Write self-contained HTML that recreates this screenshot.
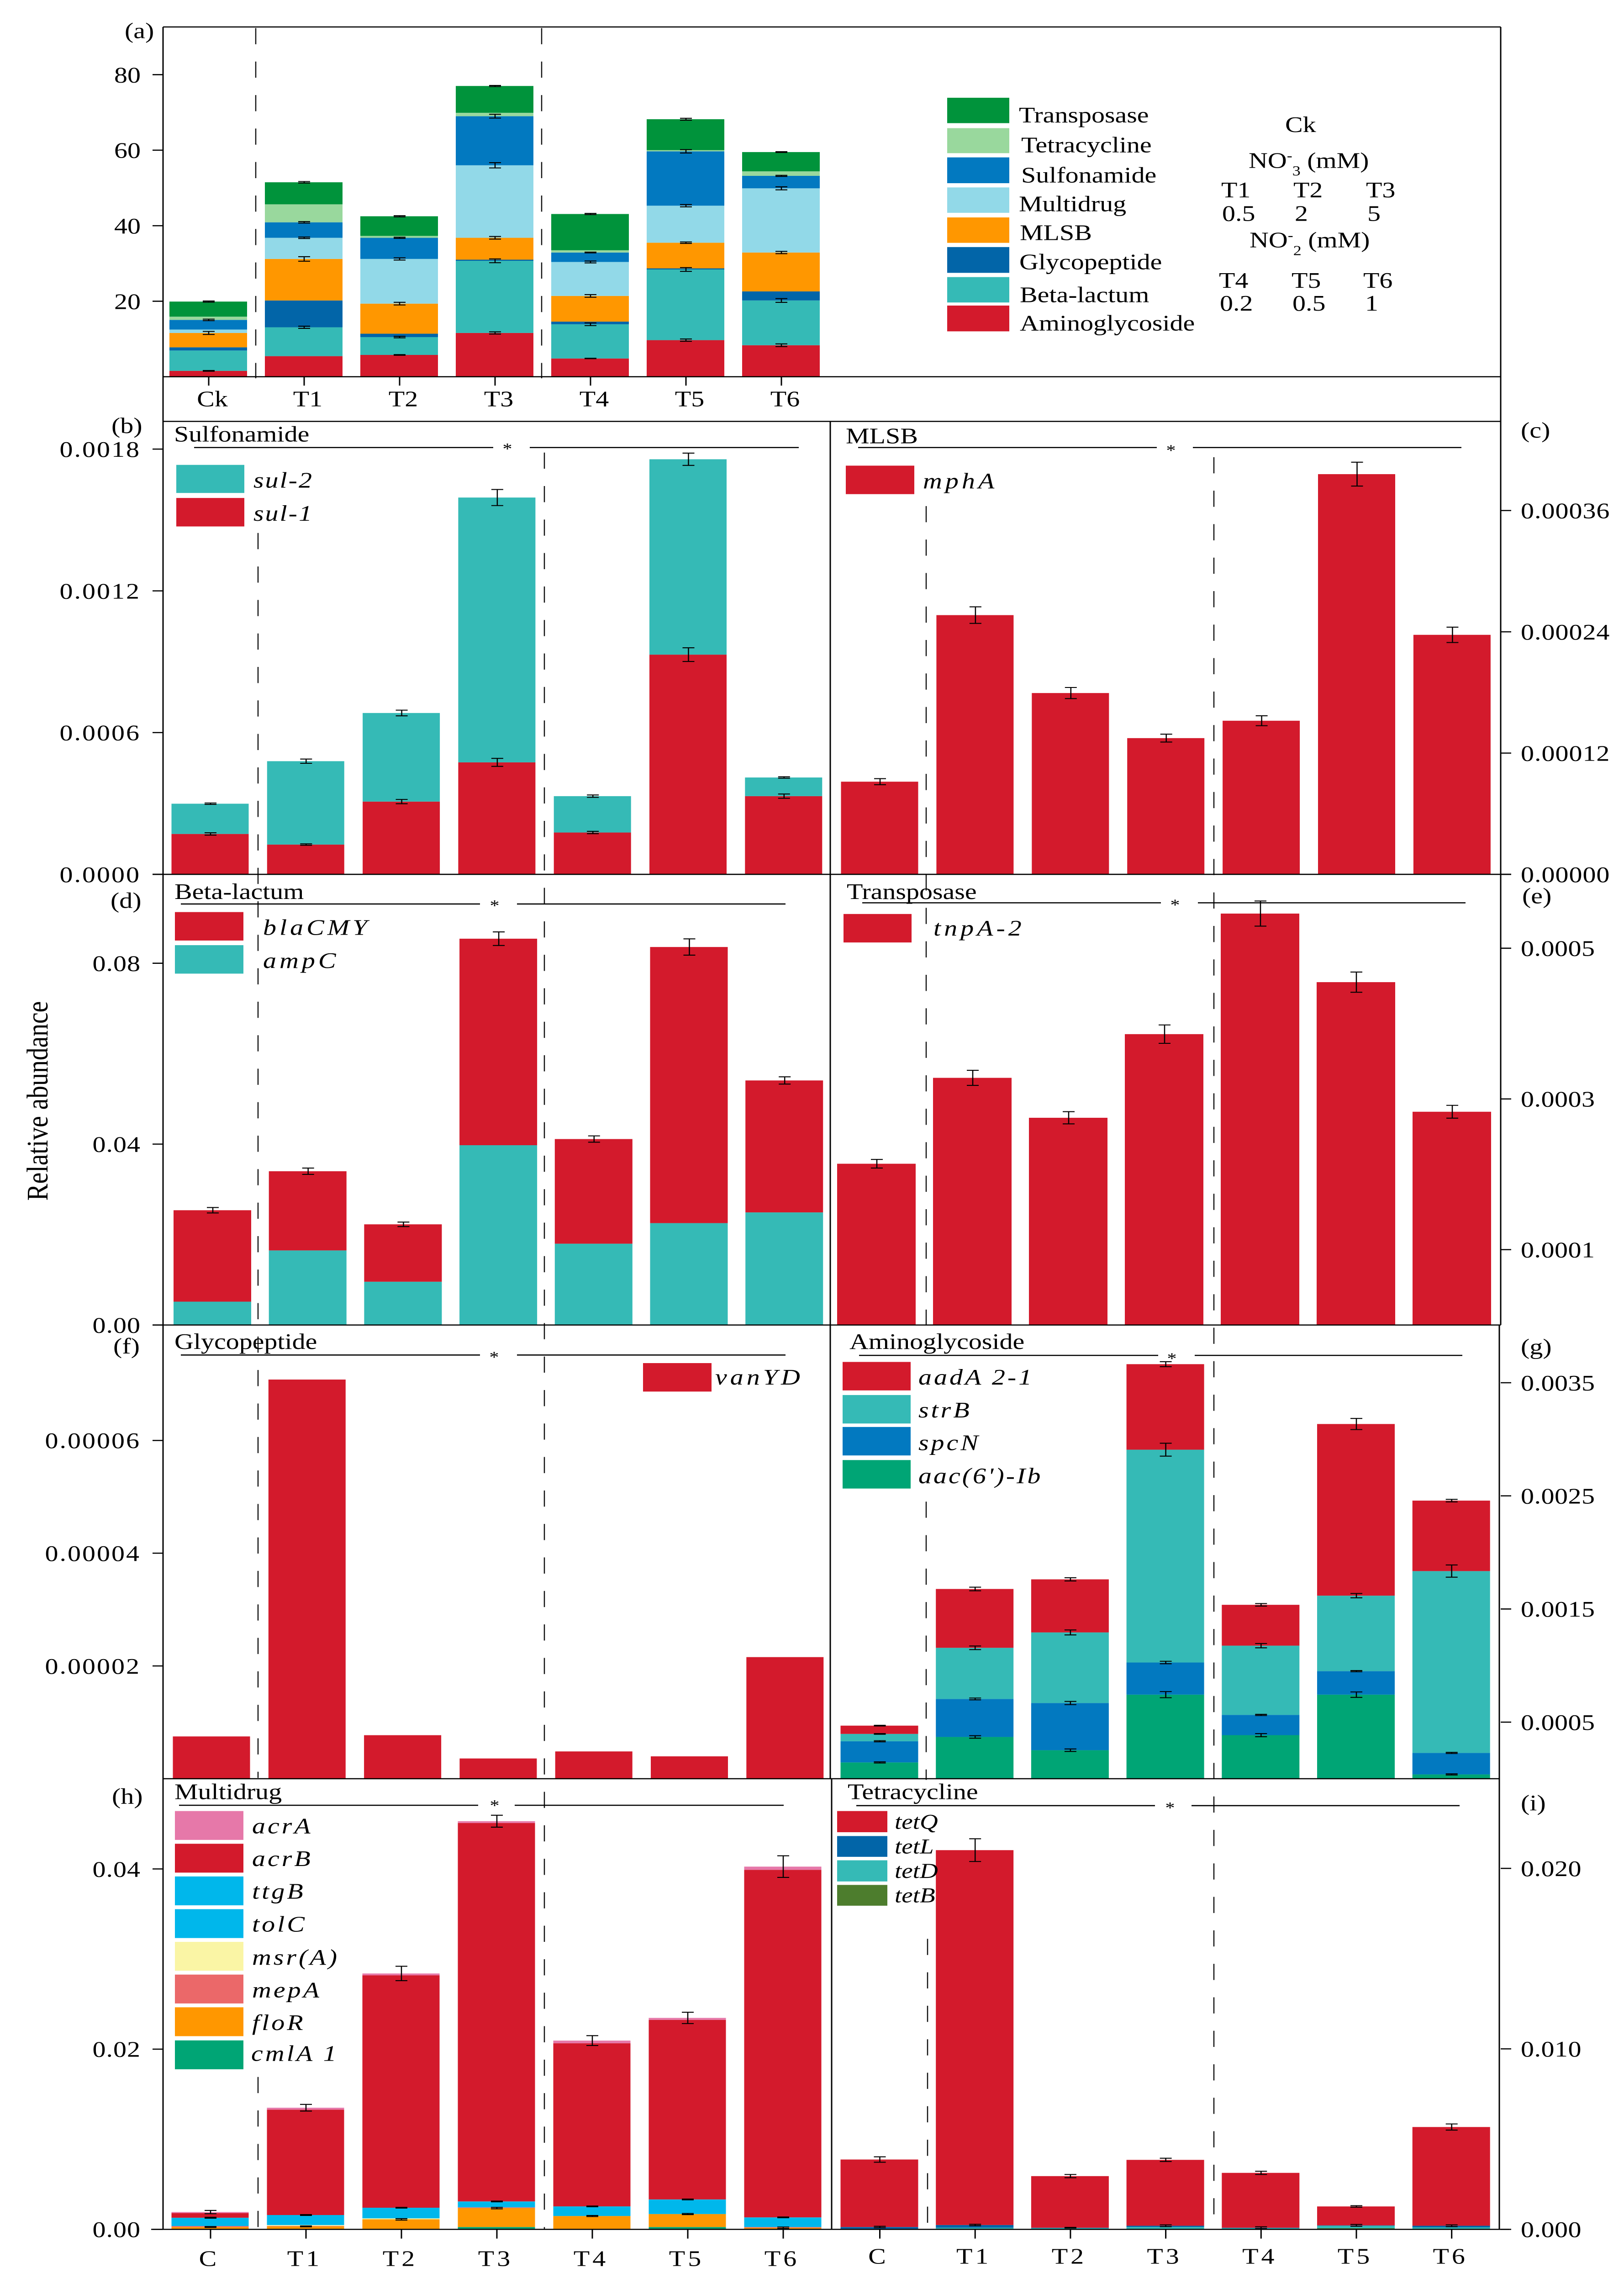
<!DOCTYPE html>
<html lang="en">
<head>
<meta charset="utf-8">
<title>Relative abundance of antibiotic resistance genes</title>
<style>
html,body{margin:0;padding:0;background:#fff;width:100vw;height:100vh;overflow:hidden;}
svg{display:block;position:absolute;left:0;top:0;width:100vw;height:100vh;overflow:hidden;}
script{display:none;}
text{font-family:"Liberation Serif","DejaVu Serif",serif;font-size:58px;fill:#000;}
.i{font-style:italic;}
.dash{stroke:#111;stroke-width:2.5;stroke-dasharray:42 45;fill:none;}
.ax{stroke:#000;stroke-width:3;fill:none;}
.sig{stroke:#000;stroke-width:3;fill:none;}
.star{font-size:42px;}
</style>
</head>
<body>
<svg id="figure" xmlns="http://www.w3.org/2000/svg" viewBox="0 0 3556 5935" preserveAspectRatio="none">
<rect x="0" y="0" width="3556" height="5935" fill="#fff"/>

<g>
<line class="dash" x1="560" y1="73" x2="560" y2="983"/>
<line class="dash" x1="1186" y1="73" x2="1186" y2="983"/>
<line class="dash" x1="565" y1="1385" x2="565" y2="4620"/>
<line class="dash" x1="565" y1="5397" x2="565" y2="5793"/>
<line class="dash" x1="1192" y1="1176" x2="1192" y2="5793"/>
<line class="dash" x1="2028" y1="1315" x2="2028" y2="3444"/>
<line class="dash" x1="2028" y1="3902" x2="2028" y2="4625"/>
<line class="dash" x1="2031" y1="5038" x2="2031" y2="5793"/>
<line class="dash" x1="2658" y1="1188" x2="2658" y2="5793"/>
</g>

<g id="marks"></g>

<g>
<line class="ax" x1="357" y1="70" x2="3286" y2="70"/>
<line class="ax" x1="357" y1="979" x2="3286" y2="979"/>
<line class="ax" x1="357" y1="1095" x2="3286" y2="1095"/>
<line class="ax" x1="334" y1="2272" x2="3309" y2="2272"/>
<line class="ax" x1="334" y1="3443" x2="3286" y2="3443"/>
<line class="ax" x1="357" y1="4622" x2="3283" y2="4622"/>
<line class="ax" x1="331" y1="5793" x2="3305" y2="5793"/>
<line class="ax" x1="357" y1="70" x2="357" y2="5793"/>
<line class="ax" x1="1818" y1="1095" x2="1818" y2="4622"/>
<line class="ax" x1="1821" y1="4622" x2="1821" y2="5793"/>
<line class="ax" x1="3286" y1="70" x2="3286" y2="3443"/>
<line class="ax" x1="3283" y1="3443" x2="3283" y2="5793"/>
</g>

<g>
<text x="273" y="99">(a)</text>
<text x="244" y="1125">(b)</text>
<text x="3330" y="1137">(c)</text>
<text x="242" y="2359">(d)</text>
<text x="3333" y="2347">(e)</text>
<text x="248" y="3517">(f)</text>
<text x="3330" y="3519">(g)</text>
<text x="245" y="4687">(h)</text>
<text x="3330" y="4704">(i)</text>
</g>

<text transform="translate(104,3120) rotate(-90)" style="font-size:66px">Relative abundance</text>

<g>
<text x="381" y="1147">Sulfonamide</text>
<line class="sig" x1="425" y1="1163" x2="1080" y2="1163"/>
<text class="star" x="1111" y="1180" text-anchor="middle">*</text>
<line class="sig" x1="1160" y1="1163" x2="1749" y2="1163"/>

<text x="1852" y="1152">MLSB</text>
<line class="sig" x1="1879" y1="1163" x2="2533" y2="1163"/>
<text class="star" x="2564" y="1184" text-anchor="middle">*</text>
<line class="sig" x1="2612" y1="1163" x2="3200" y2="1163"/>

<text x="382" y="2336">Beta-lactum</text>
<line class="sig" x1="396" y1="2349" x2="1051" y2="2349"/>
<text class="star" x="1083" y="2367" text-anchor="middle">*</text>
<line class="sig" x1="1132" y1="2349" x2="1720" y2="2349"/>

<text x="1854" y="2336">Transposase</text>
<line class="sig" x1="1888" y1="2346" x2="2542" y2="2346"/>
<text class="star" x="2573" y="2365" text-anchor="middle">*</text>
<line class="sig" x1="2623" y1="2346" x2="3209" y2="2346"/>

<text x="382" y="3505">Glycopeptide</text>
<line class="sig" x1="396" y1="3521" x2="1051" y2="3521"/>
<text class="star" x="1082" y="3540" text-anchor="middle">*</text>
<line class="sig" x1="1132" y1="3521" x2="1720" y2="3521"/>

<text x="1860" y="3505">Aminoglycoside</text>
<line class="sig" x1="1881" y1="3522" x2="2536" y2="3522"/>
<text class="star" x="2566" y="3544" text-anchor="middle">*</text>
<line class="sig" x1="2616" y1="3522" x2="3202" y2="3522"/>

<text x="382" y="4675">Multidrug</text>
<line class="sig" x1="392" y1="4691" x2="1047" y2="4691"/>
<text class="star" x="1083" y="4705" text-anchor="middle">*</text>
<line class="sig" x1="1127" y1="4691" x2="1716" y2="4691"/>

<text x="1856" y="4675">Tetracycline</text>
<line class="sig" x1="1875" y1="4692" x2="2529" y2="4692"/>
<text class="star" x="2562" y="4711" text-anchor="middle">*</text>
<line class="sig" x1="2609" y1="4692" x2="3196" y2="4692"/>
</g>

<g>
<rect x="2074" y="254" width="136" height="66" fill="#00933B"/>
<rect x="2074" y="333" width="136" height="65" fill="#99D89D"/>
<rect x="2074" y="409" width="136" height="67" fill="#0279C0"/>
<rect x="2074" y="487" width="136" height="66" fill="#92D9E8"/>
<rect x="2074" y="565" width="136" height="66" fill="#FF9700"/>
<rect x="2074" y="642" width="136" height="67" fill="#0265A8"/>
<rect x="2074" y="720" width="136" height="66" fill="#35BAB6"/>
<rect x="2074" y="794" width="136" height="67" fill="#D31A2C"/>
<text x="2231" y="318">Transposase</text>
<text x="2236" y="396">Tetracycline</text>
<text x="2236" y="474">Sulfonamide</text>
<text x="2231" y="549">Multidrug</text>
<text x="2233" y="624">MLSB</text>
<text x="2232" y="700">Glycopeptide</text>
<text x="2233" y="785">Beta-lactum</text>
<text x="2233" y="859">Aminoglycoside</text>
</g>

<g>
<text x="2814" y="343">Ck</text>
<text x="2734" y="436">NO<tspan dy="-20" style="font-size:36px">-</tspan><tspan dy="40" style="font-size:36px">3</tspan><tspan dy="-20"> (mM)</tspan></text>
<text x="2674" y="513">T1</text>
<text x="2832" y="513">T2</text>
<text x="2991" y="513">T3</text>
<text x="2676" y="574">0.5</text>
<text x="2835" y="574">2</text>
<text x="2994" y="574">5</text>
<text x="2736" y="643">NO<tspan dy="-20" style="font-size:36px">-</tspan><tspan dy="40" style="font-size:36px">2</tspan><tspan dy="-20"> (mM)</tspan></text>
<text x="2669" y="748">T4</text>
<text x="2828" y="748">T5</text>
<text x="2985" y="748">T6</text>
<text x="2671" y="807">0.2</text>
<text x="2830" y="807">0.5</text>
<text x="2989" y="807">1</text>
</g>

<g>
<rect x="386" y="1208" width="149" height="73" fill="#35BAB6"/>
<rect x="386" y="1294" width="149" height="74" fill="#D31A2C"/>
<text class="i" x="555" y="1267" letter-spacing="3">sul-2</text>
<text class="i" x="555" y="1353" letter-spacing="3">sul-1</text>
</g>
<g>
<rect x="1852" y="1210" width="150" height="74" fill="#D31A2C"/>
<text class="i" x="2021" y="1269" letter-spacing="7">mphA</text>
</g>
<g>
<rect x="383" y="2370" width="150" height="74" fill="#D31A2C"/>
<rect x="383" y="2456" width="150" height="74" fill="#35BAB6"/>
<text class="i" x="576" y="2429" letter-spacing="7">blaCMY</text>
<text class="i" x="576" y="2515" letter-spacing="7">ampC</text>
</g>
<g>
<rect x="1847" y="2375" width="149" height="74" fill="#D31A2C"/>
<text class="i" x="2044" y="2431" letter-spacing="7">tnpA-2</text>
</g>
<g>
<rect x="1408" y="3542" width="150" height="74" fill="#D31A2C"/>
<text class="i" x="1566" y="3598" letter-spacing="7">vanYD</text>
</g>
<g>
<rect x="1845" y="3539" width="149" height="74" fill="#D31A2C"/>
<rect x="1845" y="3625" width="149" height="74" fill="#35BAB6"/>
<rect x="1845" y="3708" width="149" height="74" fill="#0279C0"/>
<rect x="1845" y="3794" width="149" height="74" fill="#00A575"/>
<text class="i" x="2011" y="3598" letter-spacing="5">aadA 2-1</text>
<text class="i" x="2011" y="3683" letter-spacing="5">strB</text>
<text class="i" x="2011" y="3768" letter-spacing="5">spcN</text>
<text class="i" x="2011" y="3854" letter-spacing="4">aac(6')-Ib</text>
</g>
<g>
<rect x="383" y="4706" width="150" height="75" fill="#E678A9"/>
<rect x="383" y="4791" width="150" height="75" fill="#D31A2C"/>
<rect x="383" y="4876" width="150" height="75" fill="#00B7EB"/>
<rect x="383" y="4961" width="150" height="75" fill="#00B7EB"/>
<rect x="383" y="5046" width="150" height="75" fill="#FAF5A5"/>
<rect x="383" y="5131" width="150" height="75" fill="#EB6869"/>
<rect x="383" y="5216" width="150" height="75" fill="#FF9700"/>
<rect x="383" y="5302" width="150" height="75" fill="#00A575"/>
<text class="i" x="552" y="4764" letter-spacing="5">acrA</text>
<text class="i" x="552" y="4849" letter-spacing="5">acrB</text>
<text class="i" x="552" y="4934" letter-spacing="5">ttgB</text>
<text class="i" x="552" y="5019" letter-spacing="5">tolC</text>
<text class="i" x="552" y="5105" letter-spacing="5">msr(A)</text>
<text class="i" x="552" y="5190" letter-spacing="5">mepA</text>
<text class="i" x="552" y="5275" letter-spacing="5">floR</text>
<text class="i" x="550" y="5355" letter-spacing="5">cmlA 1</text>
</g>
<g>
<rect x="1833" y="4706" width="110" height="55" fill="#D31A2C"/>
<rect x="1833" y="4771" width="110" height="54" fill="#0265A8"/>
<rect x="1833" y="4834" width="110" height="55" fill="#35BAB6"/>
<rect x="1833" y="4898" width="110" height="54" fill="#4D7D2D"/>
<text class="i" x="1959" y="4752" style="font-size:55px">tetQ</text>
<text class="i" x="1959" y="4816" style="font-size:55px">tetL</text>
<text class="i" x="1959" y="4880" style="font-size:55px">tetD</text>
<text class="i" x="1959" y="4943" style="font-size:55px">tetB</text>
</g>
</svg>

<script>
// Categories
const categoriesTop = ['Ck','T1','T2','T3','T4','T5','T6'];
const categoriesBottom = ['C','T1','T2','T3','T4','T5','T6'];

// Panel a: ARG class abundance
const aAminoglycoside = [1.56,5.46,5.78,11.6,4.84,9.7,8.35];
const aBetaLactum = [5.39,7.64,4.72,19.1,9.06,18.7,11.85];
const aGlycopeptide = [0.85,7.1,0.9,0.3,0.7,0.3,2.4];
const aMLSB = [3.8,11.0,7.96,5.8,6.8,6.8,10.3];
const aMultidrug = [0.9,5.6,11.84,19.2,9.0,9.8,17.0];
const aSulfonamide = [2.56,4.1,5.6,13.0,2.5,14.4,3.3];
const aTetracycline = [0.85,4.76,0.5,0.9,0.6,0.3,1.2];
const aTransposase = [4.0,5.84,5.2,7.1,9.6,8.2,5.1];
const aAminoglycosideErr = [0.1,0,0.08,0.3,0.06,0.3,0.35];
const aBetaLactumErr = [0,0.3,0.2,0.5,0.35,0.5,0.5];
const aMLSBErr = [0.4,0.6,0.35,0.35,0.35,0.2,0.3];
const aMultidrugErr = [0,0.2,0.3,0.7,0.25,0.3,0.4];
const aSulfonamideErr = [0.2,0.2,0.15,0.5,0.1,0.45,0.15];
const aTransposaseErr = [0.15,0.2,0.15,0.15,0.15,0.25,0.1];
const aTicks = [20,40,60,80];
const aTickLabels = ['20','40','60','80'];

// Panel b: sulfonamide
const bSul1 = [0.000171,0.000126,0.000308,0.000474,0.000177,0.00093,0.000331];
const bSul2 = [0.000128,0.000353,0.000375,0.001121,0.000154,0.000827,0.000079];
const bSul1Err = [0.000005,0.000003,0.000009,0.000017,0.000005,0.000029,0.000009];
const bSul2Err = [0.000003,0.000009,0.000012,0.000034,0.000005,0.000026,0.000003];
const bTicks = [0,0.0006,0.0012,0.0018];
const bTickLabels = ['0.0000','0.0006','0.0012','0.0018'];

// Panel c: MLSB
const cMphA = [0.0000917,0.0002565,0.0001794,0.0001348,0.000152,0.000396,0.000237];
const cMphAErr = [0.000003,0.0000082,0.0000055,0.0000039,0.0000049,0.0000118,0.0000076];
const cTicks = [0,0.00012,0.00024,0.00036];
const cTickLabels = ['0.00000','0.00012','0.00024','0.00036'];

// Panel d: beta-lactam
const dAmpC = [0.00516,0.01649,0.00957,0.03976,0.01798,0.02253,0.0249];
const dBlaCMY = [0.02022,0.01751,0.01269,0.04567,0.02314,0.06106,0.02918];
const dBlaCMYErr = [0.0006,0.0007,0.0005,0.0015,0.0007,0.0018,0.0008];
const dTicks = [0,0.04,0.08];
const dTickLabels = ['0.00','0.04','0.08'];

// Panel e: transposase
const eTnpA2 = [0.000214,0.000328,0.000275,0.000386,0.000546,0.000455,0.000283];
const eTnpA2Err = [0.0000057,0.00001,0.0000081,0.0000122,0.0000167,0.0000134,0.0000085];
const eTicks = [0.0001,0.0003,0.0005];
const eTickLabels = ['0.0001','0.0003','0.0005'];

// Panel f: glycopeptide
const fVanYD = [0.0000075,0.0000708,0.00000772,0.00000359,0.00000484,0.00000397,0.00002157];
const fTicks = [0.00002,0.00004,0.00006];
const fTickLabels = ['0.00002','0.00004','0.00006'];

// Panel g: aminoglycoside
const gAac = [0.000144,0.000369,0.000252,0.000743,0.000385,0.000743,0.000038];
const gSpcN = [0.000187,0.000336,0.000417,0.000284,0.000179,0.000208,0.00019];
const gStrB = [0.000065,0.000452,0.000624,0.001881,0.000612,0.000667,0.001607];
const gAadA = [0.000073,0.00052,0.000469,0.000756,0.000361,0.001517,0.000623];
const gAacErr = [0.000005,0.000011,0.000011,0.000027,0.000014,0.000024,0.000005];
const gSpcNErr = [0.000005,0.000008,0.000014,0.000011,0.000005,0.000005,0.000005];
const gStrBErr = [0.000003,0.000016,0.000022,0.000057,0.000019,0.000019,0.000054];
const gAadAErr = [0.000003,0.000016,0.000014,0.000022,0.000011,0.000049,0.000011];
const gTicks = [0.0005,0.0015,0.0025,0.0035];
const gTickLabels = ['0.0005','0.0015','0.0025','0.0035'];

// Panel h: multidrug
const hCmlA1 = [0,0,0,0.00026,0,0.00026,0];
const hFloR = [0.00026,0.00033,0.00111,0.0021,0.00148,0.00144,0.00018];
const hMepA = [0.00011,0.00005,0,0.00008,0,0,0.00008];
const hMsrA = [0,0.0001,0.00011,0,0,0,0];
const hTolC = [0.00087,0.00106,0.00113,0.00061,0.00102,0.00157,0.00102];
const hTtgB = [0.00005,0.00005,0.00005,0.00005,0.00005,0.00005,0.00005];
const hAcrB = [0.00052,0.01169,0.0258,0.042,0.0181,0.01993,0.03857];
const hAcrA = [0.00011,0.00022,0.0002,0.0002,0.0003,0.00022,0.00036];
const hFloRErr = [0.00005,0.00005,0.00008,0.00008,0.00006,0.00006,0.00008];
const hTtgBErr = [0.00005,0.00005,0.00004,0.00004,0.00004,0.00004,0.00004];
const hAcrAErr = [0.00018,0.00037,0.0008,0.00066,0.00055,0.00063,0.0012];
const hTicks = [0,0.02,0.04];
const hTickLabels = ['0.00','0.02','0.04'];

// Panel i: tetracycline
const iTetB = [0,0,0,0,0,0.00006,0];
const iTetD = [0,0.00009,0.00007,0.00013,0.00007,0.00014,0.00011];
const iTetL = [0.00013,0.00015,0.00002,0.00007,0.00002,0.00002,0.00009];
const iTetQ = [0.00374,0.02077,0.00286,0.00365,0.00304,0.00105,0.00547];
const iTetQErr = [0.00015,0.00063,0.00009,0.00009,0.00009,0.00004,0.00017];
const iTetLErr = [0.00004,0.00004,0.00002,0.00005,0.00005,0.00005,0.00005];
const iTicks = [0,0.01,0.02];
const iTickLabels = ['0.000','0.010','0.020'];

const RED='#D31A2C',TEAL='#35BAB6',GREEN='#00933B',LTGREEN='#99D89D',BLUE='#0279C0',
      LTBLUE='#92D9E8',ORANGE='#FF9700',DKBLUE='#0265A8',CYAN='#00B7EB',PINK='#E678A9',
      YELLOW='#FAF5A5',SALMON='#EB6869',SEA='#00A575',OLIVE='#4D7D2D';

const panels = [
 {id:'a',x0:456,pitch:209,w:170,zero:979,refY:194,refV:80,side:'left',tickLs:0,ticks:aTicks,labels:aTickLabels,
  series:[['aminoglycoside',aAminoglycoside,aAminoglycosideErr,RED],['beta-lactum',aBetaLactum,aBetaLactumErr,TEAL],
  ['glycopeptide',aGlycopeptide,null,DKBLUE],['mlsb',aMLSB,aMLSBErr,ORANGE],['multidrug',aMultidrug,aMultidrugErr,LTBLUE],
  ['sulfonamide',aSulfonamide,aSulfonamideErr,BLUE],['tetracycline',aTetracycline,null,LTGREEN],['transposase',aTransposase,aTransposaseErr,GREEN]],
  xLabels:categoriesTop,tickBottom:1002,labelY:1056,labelDx:8,ls:0},
 {id:'b',x0:460,pitch:209.3,w:169,zero:2272,refY:1167,refV:0.0018,side:'left',tickLs:3,ticks:bTicks,labels:bTickLabels,
  series:[['sul-1',bSul1,bSul1Err,RED],['sul-2',bSul2,bSul2Err,TEAL]]},
 {id:'c',x0:1926,pitch:208.9,w:169,zero:2272,refY:1326.6,refV:0.00036,side:'right',tickLs:1,ticks:cTicks,labels:cTickLabels,
  series:[['mpha',cMphA,cMphAErr,RED]]},
 {id:'d',x0:465,pitch:208.7,w:170,zero:3443,refY:2503,refV:0.08,side:'left',tickLs:1,ticks:dTicks,labels:dTickLabels,
  series:[['ampc',dAmpC,null,TEAL],['blacmy',dBlaCMY,dBlaCMYErr,RED]]},
 {id:'e',x0:1919,pitch:210,w:172,zero:3443,refY:2464,refV:0.0005,side:'right',tickLs:0.5,ticks:eTicks,labels:eTickLabels,
  series:[['tnpa-2',eTnpA2,eTnpA2Err,RED]]},
 {id:'f',x0:463,pitch:209.3,w:169,zero:4622,refY:3743,refV:0.00006,side:'left',tickLs:3,ticks:fTicks,labels:fTickLabels,
  series:[['vanyd',fVanYD,null,RED]]},
 {id:'g',x0:1925.5,pitch:208.7,w:170,zero:4622,refY:3593,refV:0.0035,side:'right',tickLs:0.5,ticks:gTicks,labels:gTickLabels,
  series:[['aac',gAac,gAacErr,SEA],['spcn',gSpcN,gSpcNErr,BLUE],['strb',gStrB,gStrBErr,TEAL],['aada2-1',gAadA,gAadAErr,RED]]},
 {id:'h',x0:460,pitch:209,w:169,zero:5793,refY:4856.5,refV:0.04,side:'left',tickLs:1,ticks:hTicks,labels:hTickLabels,
  series:[['cmla1',hCmlA1,null,SEA],['flor',hFloR,hFloRErr,ORANGE],['mepa',hMepA,null,SALMON],['msra',hMsrA,null,YELLOW],
  ['tolc',hTolC,null,CYAN],['ttgb',hTtgB,hTtgBErr,CYAN],['acrb',hAcrB,null,RED],['acra',hAcrA,hAcrAErr,PINK]],
  xLabels:categoriesBottom,tickBottom:5817,labelY:5888,labelDx:-3,ls:6},
 {id:'i',x0:1925.5,pitch:208.7,w:170,zero:5793,refY:4855,refV:0.02,side:'right',tickLs:0.5,ticks:iTicks,labels:iTickLabels,
  series:[['tetb',iTetB,null,OLIVE],['tetd',iTetD,null,TEAL],['tetl',iTetL,iTetLErr,DKBLUE],['tetq',iTetQ,iTetQErr,RED]],
  xLabels:categoriesBottom,tickBottom:5817,labelY:5882,labelDx:-3,ls:6}
];

const NS='http://www.w3.org/2000/svg';
const marks=document.getElementById('marks');
function el(tag,attrs,parent){
  const n=document.createElementNS(NS,tag);
  for(const k in attrs){n.setAttribute(k,attrs[k]);}
  parent.appendChild(n);
  return n;
}
function yScale(p){return function(v){return p.zero-(v/p.refV)*(p.zero-p.refY);};}
function xCenter(p,i){return p.x0+p.pitch*i;}

panels.forEach(function(p){
  const y=yScale(p);
  const g=el('g',{},marks);
  
  
  const cats=p.series[0][1].length;
  const cum=new Array(cats).fill(0);
  const errs=[];
  p.series.forEach(function(s){
    const name=s[0],vals=s[1],err=s[2],color=s[3];
    vals.forEach(function(v,i){
      const base=cum[i];
      cum[i]=base+v;
      if(v>0){
        const r=el('rect',{x:xCenter(p,i)-p.w/2,y:y(cum[i]),width:p.w,height:y(base)-y(cum[i]),fill:color},g);
        
        
      }
      if(err&&err[i]>0){errs.push([i,cum[i],err[i],name]);}
    });
  });
  errs.forEach(function(e){
    const cx=xCenter(p,e[0])+1,top=y(e[1]+e[2]),bot=y(e[1]-e[2]);
    const path=el('path',{d:'M'+(cx-13)+' '+top+'H'+(cx+13)+'M'+cx+' '+top+'V'+bot+'M'+(cx-13)+' '+bot+'H'+(cx+13),stroke:'#000','stroke-width':2.5,fill:'none'},g);
    
    
  });
  p.ticks.forEach(function(t,i){
    const ty=y(t);
    const left=p.side==='left';
    const tk=el('line',{x1:left?334:3286,x2:left?357:3309,y1:ty,y2:ty,stroke:'#000','stroke-width':3},g);
    
    
    const lb=el('text',{x:left?308:3330,y:ty+20,'text-anchor':left?'end':'start','letter-spacing':p.tickLs},g);
    lb.textContent=p.labels[i];
    
    
  });
  if(p.xLabels){
    p.xLabels.forEach(function(c,i){
      const cx=xCenter(p,i)+1;
      const tk=el('line',{x1:cx,x2:cx,y1:p.zero,y2:p.tickBottom,stroke:'#000','stroke-width':3},g);
      
      
      const lb=el('text',{x:cx+p.labelDx,y:p.labelY,'text-anchor':'middle','letter-spacing':p.ls},g);
      lb.textContent=c;
      
      
    });
  }
});
</script>
</body>
</html>
